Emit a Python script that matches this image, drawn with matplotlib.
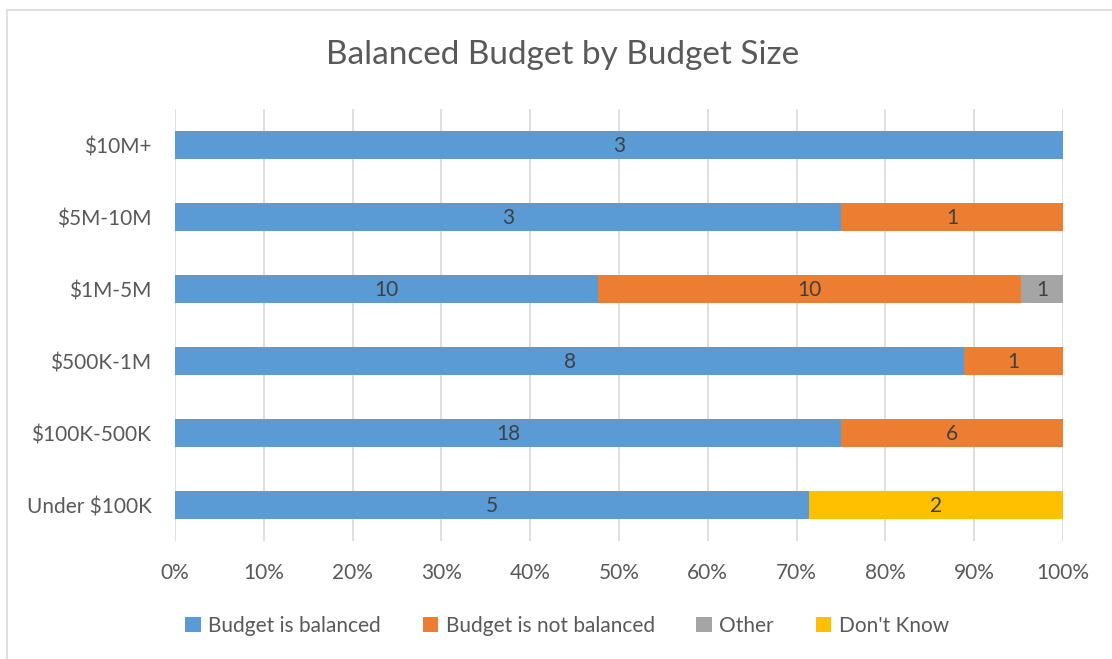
import matplotlib
matplotlib.use("Agg")
import matplotlib.pyplot as plt
from matplotlib.patches import Rectangle
from matplotlib.ticker import PercentFormatter
import numpy as np

plt.rcParams["font.family"] = ["Lato", "DejaVu Sans"]

categories = ["Under $100K", "$100K-500K", "$500K-1M", "$1M-5M", "$5M-10M", "$10M+"]
series_names = ["Budget is balanced", "Budget is not balanced", "Other", "Don't Know"]
balanced = [5, 18, 8, 10, 3, 3]
not_balanced = [0, 6, 1, 10, 1, 0]
other = [0, 0, 0, 1, 0, 0]
dont_know = [2, 0, 0, 0, 0, 0]
colors = ["#5B9BD5", "#ED7D31", "#A5A5A5", "#FFC000"]
x_ticks = [0, 10, 20, 30, 40, 50, 60, 70, 80, 90, 100]

text_color = "#595959"
fs = 15
counts = np.array([balanced, not_balanced, other, dont_know], dtype=float)
totals = counts.sum(axis=0)
shares = counts / totals * 100

fig = plt.figure(figsize=(11.12, 6.59), dpi=100)
ax = fig.add_axes([175 / 1112, 1 - 541 / 659, (1063 - 175) / 1112, (541 - 109) / 659])

# chart frame
fig.patches.append(Rectangle((7 / 1112, -0.1), 1.2, 1 - 10 / 659 + 0.1,
                             transform=fig.transFigure, fill=False,
                             edgecolor="#D9D9D9", linewidth=1.2))

y = np.arange(len(categories))
left = np.zeros(len(categories))
for i, name in enumerate(series_names):
    ax.barh(y, shares[i], left=left, height=0.4, color=colors[i],
            label=name, zorder=3)
    for j, val in enumerate(counts[i]):
        if val > 0:
            ax.text(left[j] + shares[i][j] / 2, y[j] - 0.02, f"{int(val)}",
                    ha="center", va="center", fontsize=fs, color="#404040",
                    zorder=4)
    left += shares[i]

ax.set_xlim(0, 100)
ax.set_ylim(-0.5, len(categories) - 0.5)
ax.set_xticks(x_ticks)
ax.xaxis.set_major_formatter(PercentFormatter(decimals=0))
ax.set_yticks(y)
ax.set_yticklabels(categories)
ax.tick_params(axis="both", length=0, labelsize=fs, colors=text_color)
ax.tick_params(axis="x", pad=16)
ax.tick_params(axis="y", pad=17)
ax.grid(axis="x", color="#D9D9D9", linewidth=1.2, zorder=0)
for s in ax.spines.values():
    s.set_visible(False)

fig.text(563 / 1112, 1 - 55 / 659, "Balanced Budget by Budget Size",
         ha="center", va="center", fontsize=24, color=text_color)

fig.legend(loc="center", bbox_to_anchor=(567 / 1112, 1 - 626 / 659), ncol=4,
           frameon=False, fontsize=fs, labelcolor=text_color,
           handlelength=0.75, handleheight=0.75, handletextpad=0.35,
           columnspacing=2.0)

fig.savefig("out.png", dpi=100, facecolor="white")
